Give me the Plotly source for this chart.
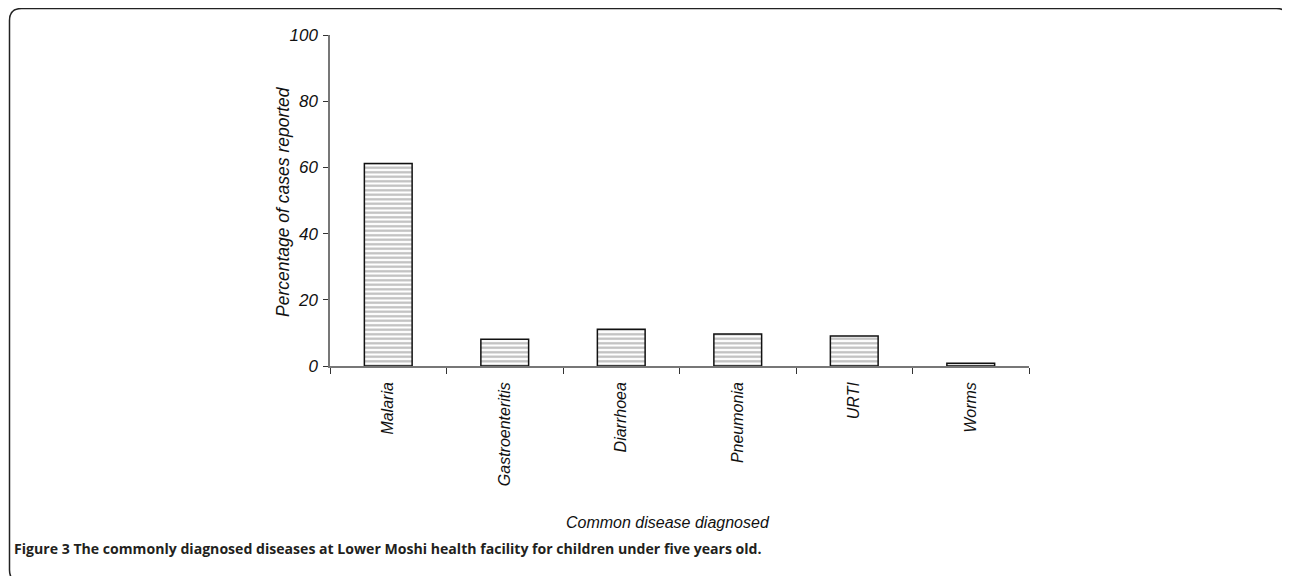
import plotly.graph_objects as go

categories = ["Malaria", "Gastroenteritis", "Diarrhoea", "Pneumonia", "URTI", "Worms"]
values = [61.2, 8.1, 11.1, 9.7, 9.1, 0.8]
y_ticks = [0, 20, 40, 60, 80, 100]

OFF = 8  # page body margin
W, H = 1290 - OFF, 576 - OFF
L, R, T, B = 330 - OFF, 1029 - OFF, 35 - OFF, 366 - OFF

def px(x):
    return (x - OFF - L) / (R - L)

def py(y):
    return (B - (y - OFF)) / (B - T)

fig = go.Figure()
fig.add_trace(go.Bar(
    x=categories, y=values,
    marker=dict(color="white",
                line=dict(color="#111111", width=1.5),
                pattern=dict(shape="-", fgcolor="#7f7f7f", bgcolor="white", size=4.5, solidity=0.5)),
    width=0.41,
))

font_it = "Liberation Sans"
fig.update_layout(
    width=W, height=H,
    margin=dict(l=L, r=W - R, t=T, b=H - B, pad=0),
    paper_bgcolor="white", plot_bgcolor="white",
    showlegend=False,
    font=dict(family=font_it, size=15, color="#111111"),
    xaxis=dict(
        type="category", range=[-0.5, 5.5],
        showline=True, linecolor="#777777", linewidth=1.5,
        ticks="outside", ticklen=6, tickcolor="#333333", tickwidth=1,
        tickson="boundaries", tickangle=-90, ticklabelstandoff=8,
        tickfont=dict(family=font_it, size=16, style="italic"),
        showgrid=False, zeroline=False,
    ),
    yaxis=dict(
        range=[0, 100], tickvals=y_ticks,
        showline=True, linecolor="#777777", linewidth=1.5,
        ticks="outside", ticklen=5, tickcolor="#333333", tickwidth=1,
        ticklabelstandoff=2,
        tickfont=dict(family=font_it, size=17, style="italic"),
        showgrid=False, zeroline=False,
    ),
)

fig.add_annotation(text="Percentage of cases reported", xref="paper", yref="paper",
                   x=px(283), y=py(202), textangle=-90, showarrow=False,
                   font=dict(family=font_it, size=17.5, style="italic", color="#111111"),
                   xanchor="center", yanchor="middle")
fig.add_annotation(text="Common disease diagnosed", xref="paper", yref="paper",
                   x=px(668), y=py(522), showarrow=False,
                   font=dict(family=font_it, size=16, style="italic", color="#111111"),
                   xanchor="center", yanchor="middle")
fig.add_annotation(text="<b>Figure 3</b> <b>The commonly diagnosed diseases at Lower Moshi health facility for children under five years old.</b>",
                   xref="paper", yref="paper", x=px(12), y=py(548), showarrow=False,
                   font=dict(family="Open Sans", size=14.1, color="#231f20"),
                   xanchor="left", yanchor="middle")

# rounded frame
r = 12
x0, y0, x1, y1 = 9.5, 8.5, 1288.5, 582
path = (f"M {px(x0)},{py(y0 + r)} "
        f"Q {px(x0)},{py(y0)} {px(x0 + r)},{py(y0)} "
        f"L {px(x1 - r)},{py(y0)} "
        f"Q {px(x1)},{py(y0)} {px(x1)},{py(y0 + r)} "
        f"L {px(x1)},{py(y1 - r)} "
        f"Q {px(x1)},{py(y1)} {px(x1 - r)},{py(y1)} "
        f"L {px(x0 + r)},{py(y1)} "
        f"Q {px(x0)},{py(y1)} {px(x0)},{py(y1 - r)} Z")
fig.add_shape(type="path", path=path, xref="paper", yref="paper",
              line=dict(color="#222222", width=1.5), layer="below")

fig.write_html("out.html")
